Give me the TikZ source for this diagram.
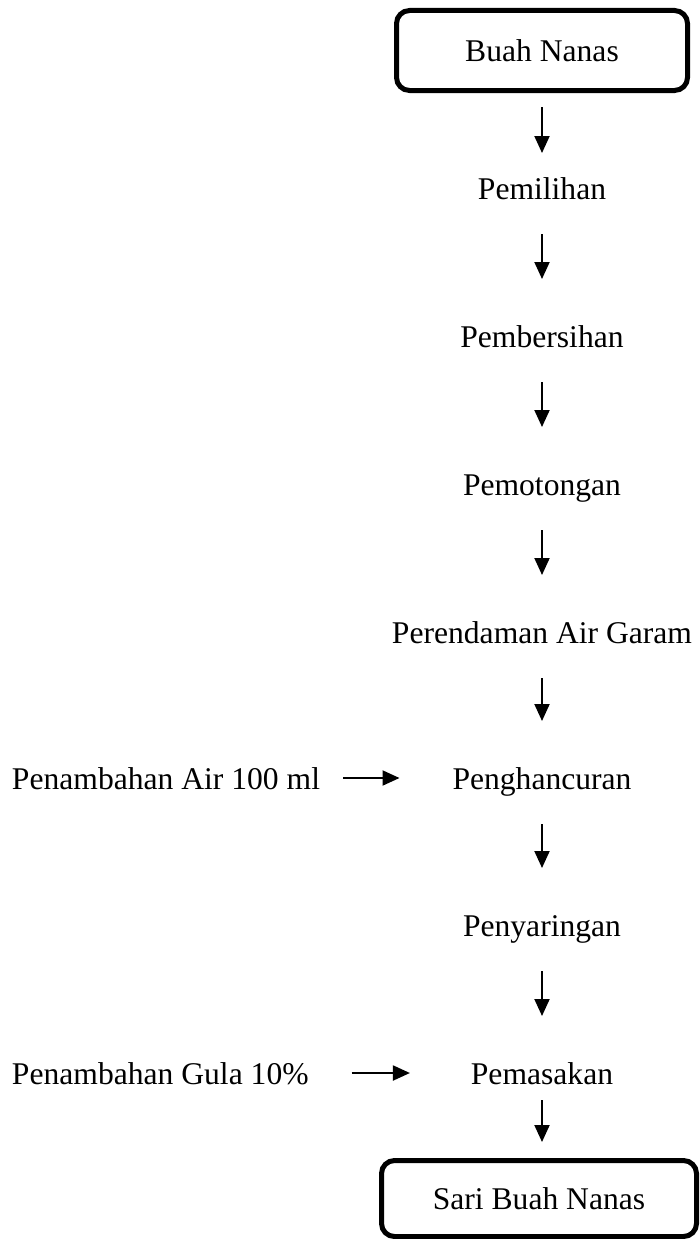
\documentclass[tikz,border=0pt]{standalone}
\usepackage{fontspec}
\setmainfont{Liberation Serif}
\usetikzlibrary{arrows.meta}

\begin{document}
\begin{tikzpicture}[x=1pt, y=-1pt,
  txt/.style={font=\fontsize{31.6}{38}\selectfont, inner sep=0pt, outer sep=0pt,
              text height=22pt, text depth=0pt},
  stepnode/.style={txt, anchor=base},
  sidenode/.style={txt, anchor=base west},
  endbox/.style={txt, draw, line width=5pt, rounded corners=13pt,
                 outer sep=2.5pt},
  flow/.style={line width=2pt, -{Triangle[length=17pt, width=15pt]}},
  down/.style={flow, shorten <=35pt, shorten >=46pt},
]
\useasboundingbox (0,0) rectangle (700,1239);

% start and end of the process
\node[endbox, minimum width=291pt, minimum height=80pt] (buah) at (542,50.5) {Buah Nanas};
\node[endbox, minimum width=315pt, minimum height=76pt] (sari) at (539,1198.5) {Sari Buah Nanas};

% processing steps
\node[stepnode] (pilih)   at (542,199)  {Pemilihan};
\node[stepnode] (bersih)  at (542,347)  {Pembersihan};
\node[stepnode] (potong)  at (542,495)  {Pemotongan};
\node[stepnode] (rendam)  at (542,643)  {Perendaman Air Garam};
\node[stepnode] (hancur)  at (542,789)  {Penghancuran};
\node[stepnode] (saring)  at (542,936)  {Penyaringan};
\node[stepnode] (masak)   at (542,1084) {Pemasakan};

% added ingredients
\node[sidenode] (air)  at (12,789)  {Penambahan Air 100 ml};
\node[sidenode] (gula) at (12,1084) {Penambahan Gula 10\%};

% main flow
\draw[flow, shorten <=14pt, shorten >=24pt] (buah.south) -- (pilih.north);
\draw[down] (pilih.south)  -- (bersih.north);
\draw[down] (bersih.south) -- (potong.north);
\draw[down] (potong.south) -- (rendam.north);
\draw[down] (rendam.south) -- (hancur.north);
\draw[down] (hancur.south) -- (saring.north);
\draw[down] (saring.south) -- (masak.north);
\draw[flow, shorten <=16pt, shorten >=16pt] (masak.south) -- (masak.south |- sari.north);

% inputs
\draw[flow, shorten <=23pt, shorten >=53pt] (air.east) -- (hancur.west);
\draw[flow, shorten <=43pt, shorten >=61pt] (gula.east) -- (masak.west);
\end{tikzpicture}
\end{document}
